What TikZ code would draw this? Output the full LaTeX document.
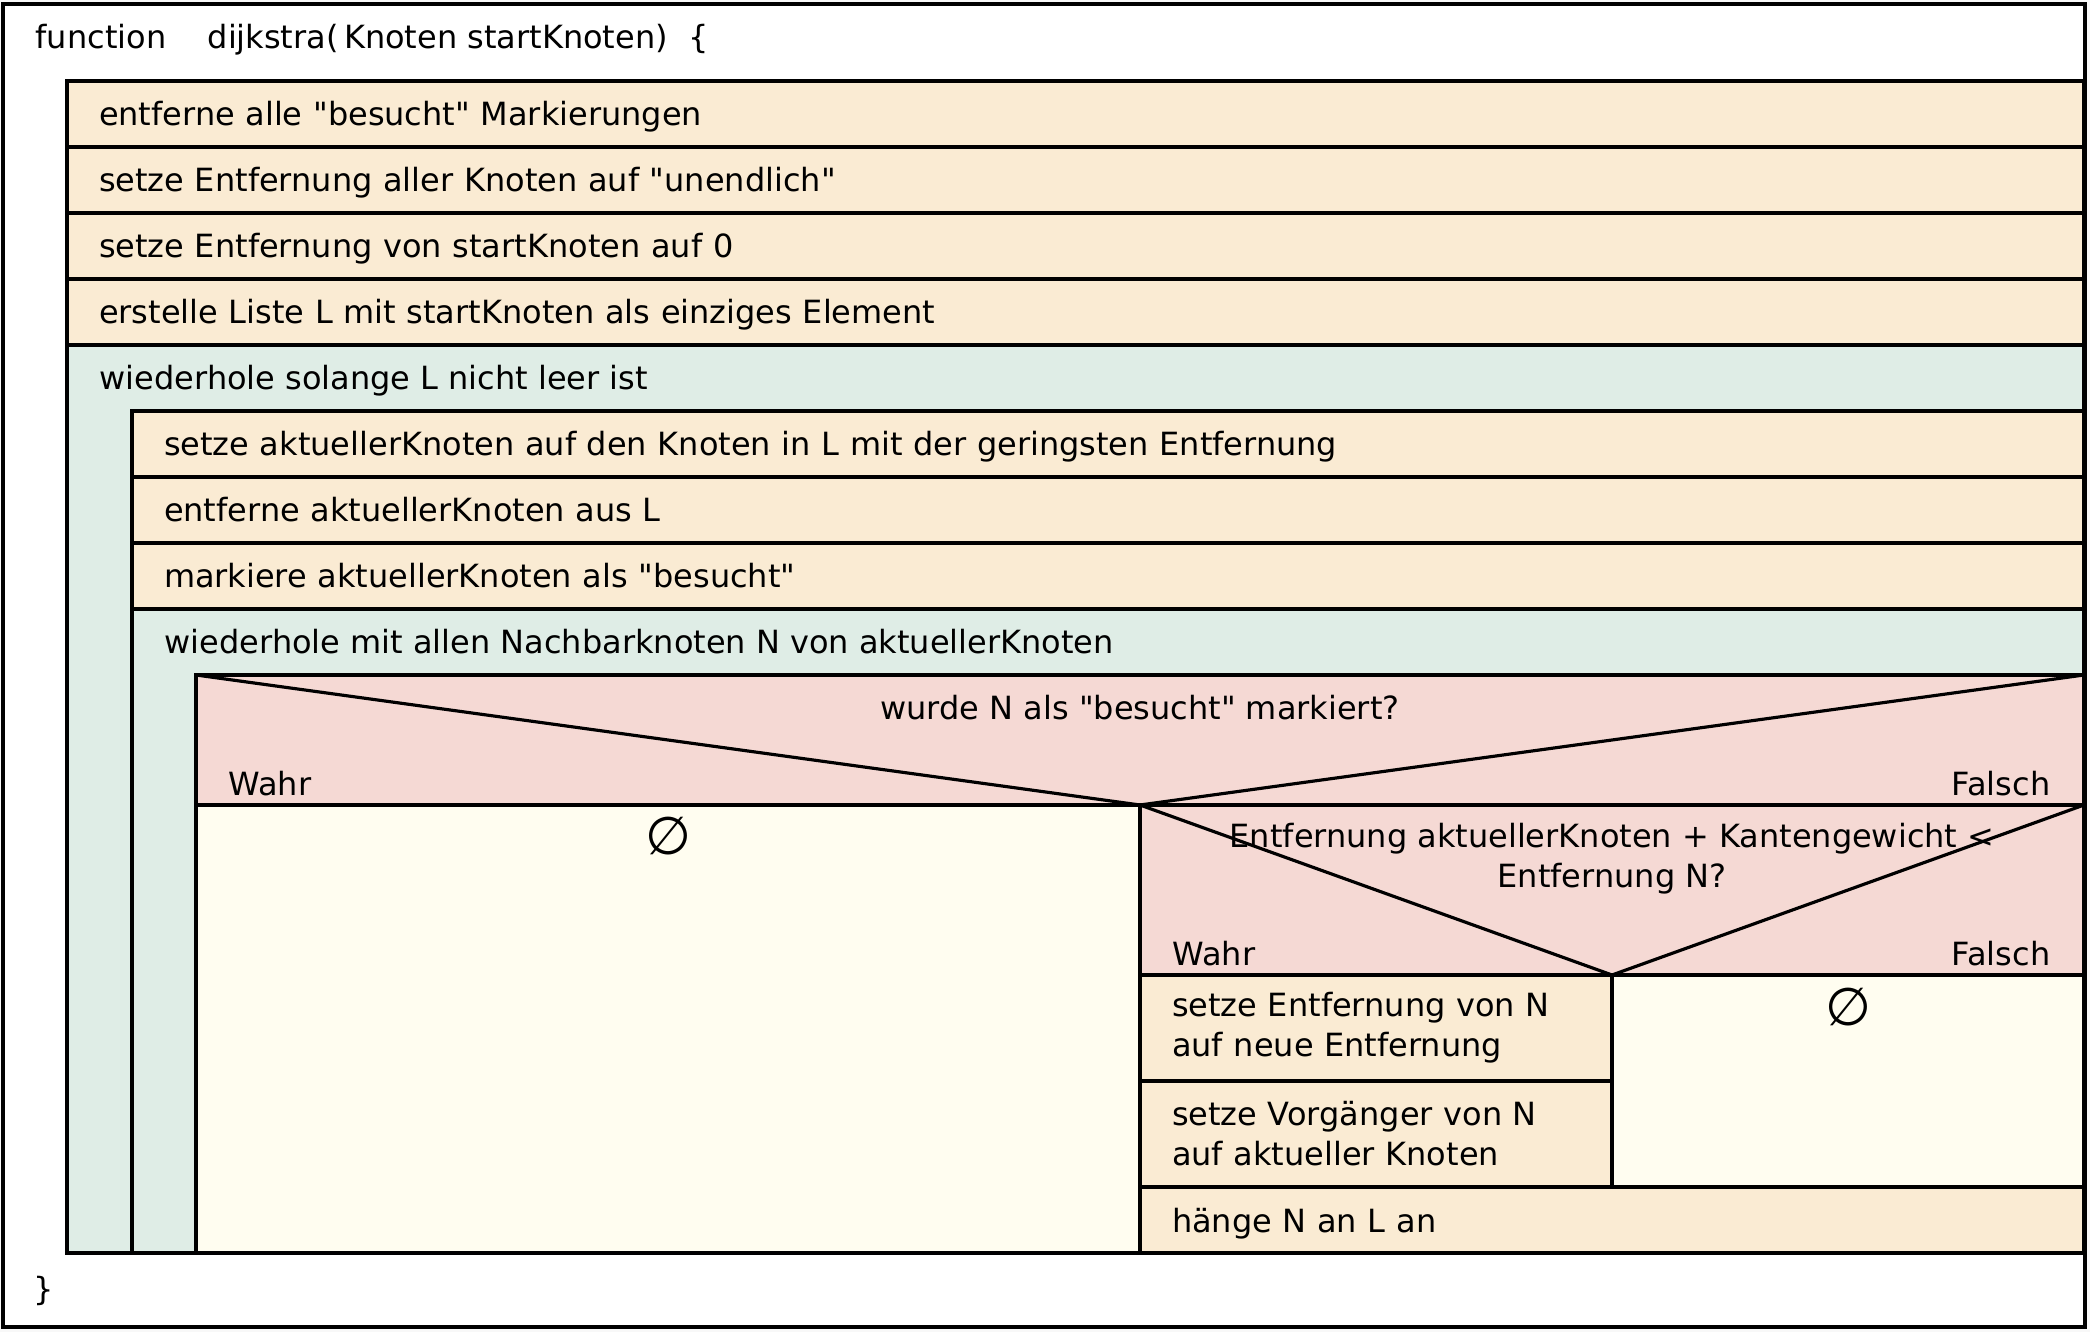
\documentclass[tikz,border=0pt]{standalone}
\usepackage{fontspec}
\setmainfont{DejaVu Sans}
\usetikzlibrary{positioning}
\definecolor{nsbeige}{HTML}{FAEBD3}
\definecolor{nsloop}{HTML}{DFEDE6}
\definecolor{nsdecide}{HTML}{F5D9D4}
\definecolor{nsempty}{HTML}{FFFDF0}
\definecolor{nspage}{HTML}{F8F8F8}
\newcommand{\nsfont}{\fontsize{9.1pt}{11.4pt}\selectfont}

\tikzset{
  nsbox/.style={draw, line width=0.9pt, outer sep=0pt, inner sep=0pt},
  nsrow/.style={nsbox, fill=nsbeige, minimum height=0.66cm, text width=#1, inner xsep=0.32cm, align=left},
  stmt/.style={nsrow=#1, text height=0.30cm, text depth=0.06cm},
  loopbox/.style={nsbox, fill=nsloop},
  decide/.style={nsbox, fill=nsdecide},
  nothing/.style={nsbox, fill=nsempty},
  lbl/.style={inner sep=0pt},
  emptysym/.style={inner sep=0pt, font=\fontsize{15pt}{18pt}\selectfont},
}

\begin{document}
\begin{tikzpicture}[font=\nsfont]
\useasboundingbox[fill=nspage] (0,0) rectangle (20.90,-13.32);
\node[nsbox, fill=white, minimum width=20.82cm, minimum height=13.23cm, anchor=north west] (frame) at (0.03,-0.04) {};
\node[lbl, anchor=base west] (fnkw) at (0.35,-0.49) {function};
\node[lbl, anchor=base west] (fnhead) at (2.07,-0.49) {dijkstra(\,Knoten startKnoten)\ \ \{};
\node[lbl] (fnend) at (0.44,-12.91) {\}};

% Vorbereitung
\node[stmt=19.53cm, below right=0.77cm and 0.64cm of frame.north west] (r1) {entferne alle \textquotedbl besucht\textquotedbl{} Markierungen};
\node[stmt=19.53cm, below=0pt of r1] (r2) {setze Entfernung aller Knoten auf \textquotedbl unendlich\textquotedbl};
\node[stmt=19.53cm, below=0pt of r2] (r3) {setze Entfernung von startKnoten auf 0};
\node[stmt=19.53cm, below=0pt of r3] (r4) {erstelle Liste L mit startKnoten als einziges Element};

% aeussere Schleife
\node[loopbox, minimum width=20.17cm, minimum height=9.08cm, below=0pt of r4] (loopA) {};
\node[lbl, anchor=base west] (loopAtxt) at ([xshift=0.32cm, yshift=-0.45cm]loopA.north west) {wiederhole solange L nicht leer ist};
\node[stmt=18.88cm, below=0.66cm of loopA.north east, anchor=north east] (s1) {setze aktuellerKnoten auf den Knoten in L mit der geringsten Entfernung};
\node[stmt=18.88cm, below=0pt of s1] (s2) {entferne aktuellerKnoten aus L};
\node[stmt=18.88cm, below=0pt of s2] (s3) {markiere aktuellerKnoten als \textquotedbl besucht\textquotedbl};

% innere Schleife
\node[loopbox, minimum width=19.52cm, minimum height=6.44cm, below=0pt of s3] (loopB) {};
\node[lbl, anchor=base west] (loopBtxt) at ([xshift=0.32cm, yshift=-0.45cm]loopB.north west) {wiederhole mit allen Nachbarknoten N von aktuellerKnoten};

% erste Verzweigung
\node[decide, minimum width=18.88cm, minimum height=1.30cm, below=0.66cm of loopB.north east, anchor=north east] (dec) {};
\draw[line width=0.9pt] (dec.north west) -- (dec.south) -- (dec.north east);
\node[lbl] (dectxt) at ([yshift=-0.33cm]dec.north) {wurde N als \textquotedbl besucht\textquotedbl{} markiert?};
\node[lbl, anchor=base west] (decyes) at ([xshift=0.32cm, yshift=0.09cm]dec.south west) {Wahr};
\node[lbl, anchor=base east] (decno) at ([xshift=-0.33cm, yshift=0.09cm]dec.south east) {Falsch};
\node[nothing, minimum width=9.44cm, minimum height=4.48cm, below=0pt of dec.south west, anchor=north west] (visited) {};
\node[emptysym] (visitedsym) at ([yshift=-0.31cm]visited.north) {∅};

% zweite Verzweigung
\node[decide, minimum width=9.44cm, minimum height=1.70cm, right=0pt of visited.north east, anchor=north west] (dec2) {};
\draw[line width=0.9pt] (dec2.north west) -- (dec2.south) -- (dec2.north east);
\node[lbl, align=center] (dec2txt) at ([yshift=-0.54cm]dec2.north) {Entfernung aktuellerKnoten + Kantengewicht <\\Entfernung N?};
\node[lbl, anchor=base west] (dec2yes) at ([xshift=0.32cm, yshift=0.09cm]dec2.south west) {Wahr};
\node[lbl, anchor=base east] (dec2no) at ([xshift=-0.33cm, yshift=0.09cm]dec2.south east) {Falsch};
\node[nsrow=4.08cm, minimum height=1.06cm, below=0pt of dec2.south west, anchor=north west] (t1) {setze Entfernung von N\\auf neue Entfernung};
\node[nsrow=4.08cm, minimum height=1.06cm, below=0pt of t1] (t2) {setze Vorgänger von N\\auf aktueller Knoten};
\node[nothing, minimum width=4.72cm, minimum height=2.12cm, right=0pt of t1.north east, anchor=north west] (notless) {};
\node[emptysym] (notlesssym) at ([yshift=-0.32cm]notless.north) {∅};
\node[stmt=8.80cm, below=0pt of t2.south west, anchor=north west] (t3) {hänge N an L an};
\end{tikzpicture}
\end{document}
